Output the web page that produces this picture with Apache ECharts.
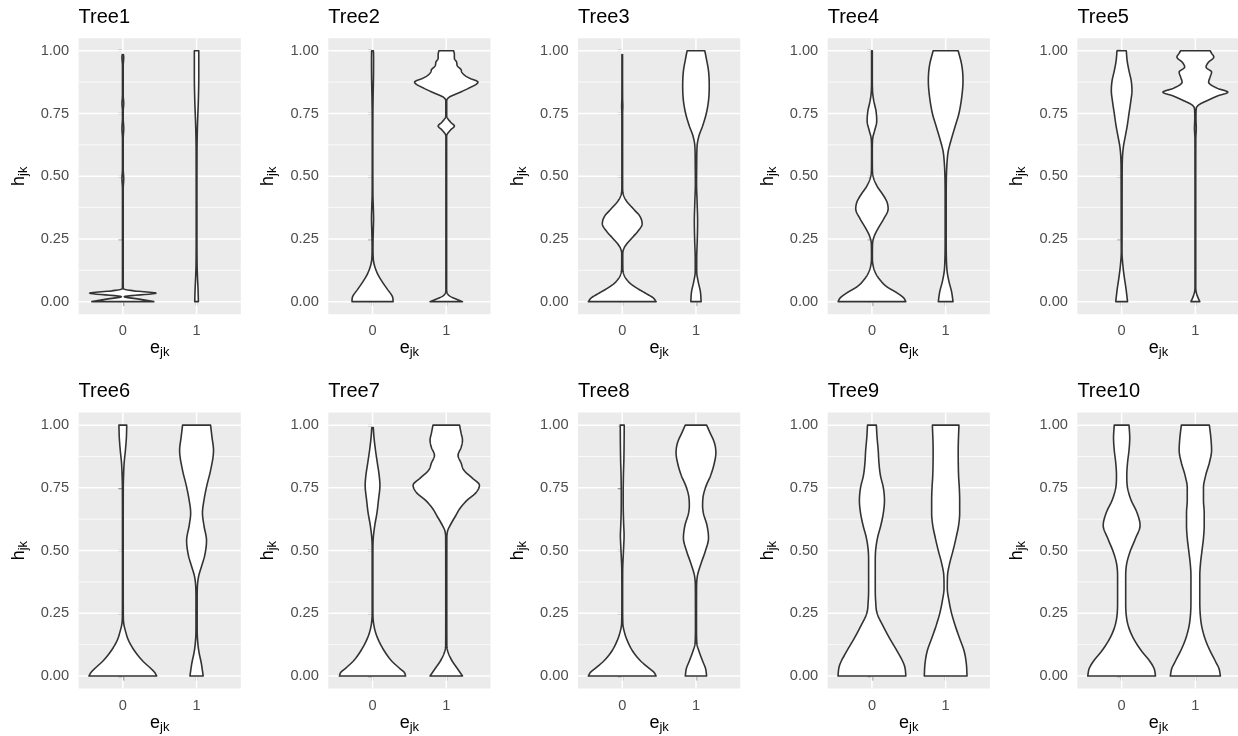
<!DOCTYPE html>
<html>
<head>
<meta charset="utf-8">
<script src="https://cdn.jsdelivr.net/npm/echarts@6/dist/echarts.min.js"></script>
<style>
  html, body { margin: 0; padding: 0; background: #fff; }
  #main { width: 1238px; height: 736px; }
</style>
</head>
<body>
<div id="main"></div>
<script>
// facet names, categories and tick labels
var treeNames = ['Tree1', 'Tree2', 'Tree3', 'Tree4', 'Tree5', 'Tree6', 'Tree7', 'Tree8', 'Tree9', 'Tree10'];
var categories = [0, 1];
var yTicks = [0, 0.25, 0.5, 0.75, 1];
var yMinor = [0.125, 0.375, 0.625, 0.875];

// violin outlines: [h_jk, half width in x units]
var tree1_e0 = [[0, 0.42], [0.01, 0.22], [0.02, 0.02], [0.034, 0.45], [0.043, 0.15], [0.052, 0.006], [0.1, 0.005], [0.45, 0.005], [0.49, 0.012], [0.53, 0.005], [0.65, 0.005], [0.69, 0.012], [0.73, 0.005], [0.76, 0.005], [0.79, 0.012], [0.82, 0.005], [0.94, 0.005], [0.975, 0.012], [0.985, 0.008]];
var tree1_e1 = [[0, 0.025], [0.05, 0.02], [0.1, 0.012], [0.15, 0.007], [0.3, 0.005], [0.6, 0.006], [0.7, 0.012], [0.8, 0.024], [0.9, 0.03], [1, 0.03]];
var tree2_e0 = [[0, 0.28], [0.02, 0.27], [0.05, 0.2], [0.08, 0.13], [0.11, 0.07], [0.14, 0.03], [0.17, 0.01], [0.22, 0.006], [0.28, 0.01], [0.33, 0.014], [0.38, 0.01], [0.43, 0.005], [0.6, 0.004], [0.75, 0.005], [0.82, 0.008], [0.9, 0.013], [0.97, 0.014], [1, 0.012]];
var tree2_e1 = [[0, 0.22], [0.01, 0.14], [0.02, 0.06], [0.03, 0.02], [0.045, 0.005], [0.3, 0.005], [0.66, 0.005], [0.685, 0.06], [0.7, 0.11], [0.715, 0.06], [0.74, 0.006], [0.8, 0.006], [0.815, 0.04], [0.83, 0.15], [0.85, 0.3], [0.875, 0.43], [0.89, 0.32], [0.9, 0.26], [0.915, 0.21], [0.925, 0.2], [0.94, 0.15], [0.955, 0.14], [0.97, 0.11], [0.985, 0.11], [1, 0.1]];
var tree3_e0 = [[0, 0.46], [0.015, 0.42], [0.033, 0.32], [0.05, 0.22], [0.07, 0.12], [0.09, 0.055], [0.11, 0.02], [0.13, 0.008], [0.19, 0.007], [0.21, 0.02], [0.23, 0.06], [0.25, 0.12], [0.28, 0.21], [0.31, 0.27], [0.34, 0.24], [0.37, 0.15], [0.4, 0.06], [0.43, 0.012], [0.46, 0.005], [0.75, 0.005], [0.78, 0.008], [0.81, 0.005], [0.985, 0.004]];
var tree3_e1 = [[0, 0.07], [0.04, 0.06], [0.08, 0.03], [0.12, 0.01], [0.17, 0.01], [0.25, 0.018], [0.32, 0.022], [0.4, 0.015], [0.47, 0.008], [0.55, 0.01], [0.62, 0.015], [0.66, 0.04], [0.7, 0.09], [0.75, 0.14], [0.8, 0.17], [0.86, 0.18], [0.92, 0.17], [0.97, 0.14], [1, 0.12]];
var tree4_e0 = [[0, 0.46], [0.015, 0.43], [0.035, 0.34], [0.06, 0.2], [0.09, 0.1], [0.12, 0.04], [0.15, 0.012], [0.18, 0.006], [0.23, 0.008], [0.26, 0.03], [0.29, 0.08], [0.33, 0.16], [0.37, 0.22], [0.4, 0.2], [0.43, 0.14], [0.46, 0.07], [0.49, 0.025], [0.52, 0.007], [0.6, 0.005], [0.65, 0.01], [0.68, 0.035], [0.72, 0.065], [0.76, 0.055], [0.8, 0.025], [0.84, 0.008], [0.9, 0.005], [1, 0.005]];
var tree4_e1 = [[0, 0.1], [0.04, 0.08], [0.08, 0.045], [0.12, 0.02], [0.17, 0.01], [0.25, 0.007], [0.4, 0.007], [0.5, 0.01], [0.56, 0.02], [0.6, 0.035], [0.64, 0.07], [0.7, 0.13], [0.75, 0.18], [0.82, 0.22], [0.88, 0.235], [0.94, 0.22], [1, 0.17]];
var tree5_e0 = [[0, 0.08], [0.05, 0.06], [0.1, 0.035], [0.15, 0.015], [0.2, 0.005], [0.3, 0.006], [0.5, 0.007], [0.58, 0.012], [0.62, 0.025], [0.66, 0.05], [0.7, 0.075], [0.75, 0.1], [0.8, 0.125], [0.84, 0.14], [0.88, 0.13], [0.92, 0.1], [0.96, 0.075], [1, 0.063]];
var tree5_e1 = [[0, 0.06], [0.02, 0.03], [0.04, 0.01], [0.06, 0.005], [0.4, 0.005], [0.65, 0.006], [0.69, 0.012], [0.73, 0.008], [0.77, 0.012], [0.785, 0.05], [0.8, 0.15], [0.82, 0.3], [0.835, 0.44], [0.85, 0.3], [0.875, 0.18], [0.895, 0.2], [0.915, 0.22], [0.935, 0.145], [0.955, 0.18], [0.975, 0.25], [0.99, 0.22], [1, 0.2]];
var tree6_e0 = [[0, 0.46], [0.015, 0.43], [0.03, 0.38], [0.06, 0.27], [0.1, 0.16], [0.14, 0.08], [0.18, 0.035], [0.21, 0.012], [0.25, 0.006], [0.5, 0.005], [0.75, 0.006], [0.8, 0.01], [0.85, 0.018], [0.9, 0.035], [0.95, 0.048], [1, 0.053]];
var tree6_e1 = [[0, 0.09], [0.05, 0.065], [0.1, 0.03], [0.15, 0.012], [0.2, 0.008], [0.3, 0.008], [0.36, 0.012], [0.4, 0.03], [0.44, 0.07], [0.48, 0.11], [0.54, 0.135], [0.6, 0.1], [0.65, 0.08], [0.7, 0.1], [0.76, 0.14], [0.82, 0.19], [0.9, 0.23], [0.95, 0.21], [1, 0.19]];
var tree7_e0 = [[0, 0.45], [0.015, 0.43], [0.03, 0.37], [0.06, 0.26], [0.1, 0.16], [0.14, 0.085], [0.18, 0.035], [0.22, 0.01], [0.26, 0.005], [0.5, 0.005], [0.55, 0.01], [0.6, 0.03], [0.65, 0.06], [0.7, 0.08], [0.76, 0.1], [0.8, 0.09], [0.85, 0.065], [0.9, 0.04], [0.95, 0.02], [0.99, 0.01]];
var tree7_e1 = [[0, 0.22], [0.03, 0.15], [0.06, 0.08], [0.09, 0.03], [0.12, 0.008], [0.3, 0.007], [0.55, 0.008], [0.58, 0.02], [0.61, 0.07], [0.64, 0.13], [0.67, 0.19], [0.7, 0.28], [0.73, 0.4], [0.76, 0.45], [0.79, 0.35], [0.82, 0.24], [0.85, 0.2], [0.88, 0.16], [0.91, 0.2], [0.94, 0.22], [0.97, 0.2], [1, 0.18]];
var tree8_e0 = [[0, 0.46], [0.015, 0.43], [0.03, 0.37], [0.06, 0.25], [0.1, 0.14], [0.14, 0.07], [0.18, 0.025], [0.21, 0.008], [0.3, 0.005], [0.42, 0.006], [0.47, 0.012], [0.52, 0.02], [0.56, 0.025], [0.6, 0.02], [0.66, 0.014], [0.72, 0.013], [0.8, 0.016], [0.86, 0.022], [0.92, 0.025], [1, 0.027]];
var tree8_e1 = [[0, 0.145], [0.03, 0.13], [0.06, 0.09], [0.1, 0.04], [0.13, 0.012], [0.2, 0.007], [0.35, 0.008], [0.4, 0.02], [0.45, 0.07], [0.5, 0.13], [0.55, 0.17], [0.6, 0.15], [0.65, 0.1], [0.68, 0.09], [0.72, 0.1], [0.76, 0.14], [0.8, 0.2], [0.85, 0.25], [0.89, 0.27], [0.93, 0.25], [0.97, 0.19], [1, 0.145]];
var tree9_e0 = [[0, 0.46], [0.03, 0.45], [0.05, 0.43], [0.1, 0.34], [0.15, 0.24], [0.2, 0.15], [0.25, 0.07], [0.3, 0.05], [0.35, 0.045], [0.45, 0.045], [0.5, 0.05], [0.55, 0.075], [0.6, 0.12], [0.65, 0.155], [0.7, 0.17], [0.75, 0.155], [0.8, 0.115], [0.85, 0.095], [0.9, 0.085], [0.95, 0.07], [1, 0.06]];
var tree9_e1 = [[0, 0.29], [0.05, 0.28], [0.1, 0.25], [0.15, 0.19], [0.2, 0.13], [0.25, 0.08], [0.3, 0.045], [0.35, 0.022], [0.4, 0.025], [0.45, 0.055], [0.5, 0.1], [0.55, 0.14], [0.6, 0.175], [0.65, 0.19], [0.7, 0.19], [0.75, 0.185], [0.8, 0.175], [0.9, 0.17], [1, 0.18]];
var tree10_e0 = [[0, 0.46], [0.03, 0.44], [0.06, 0.38], [0.1, 0.27], [0.15, 0.16], [0.2, 0.09], [0.25, 0.06], [0.3, 0.055], [0.4, 0.055], [0.45, 0.07], [0.5, 0.12], [0.55, 0.19], [0.6, 0.25], [0.65, 0.21], [0.7, 0.13], [0.75, 0.08], [0.8, 0.07], [0.85, 0.08], [0.9, 0.1], [0.95, 0.11], [1, 0.1]];
var tree10_e1 = [[0, 0.34], [0.03, 0.32], [0.06, 0.27], [0.1, 0.2], [0.15, 0.13], [0.2, 0.085], [0.25, 0.065], [0.3, 0.06], [0.4, 0.06], [0.45, 0.07], [0.5, 0.09], [0.55, 0.11], [0.6, 0.12], [0.65, 0.12], [0.7, 0.11], [0.75, 0.11], [0.8, 0.14], [0.85, 0.19], [0.9, 0.22], [0.95, 0.21], [1, 0.19]];

var violins = [
  [tree1_e0, tree1_e1], [tree2_e0, tree2_e1], [tree3_e0, tree3_e1], [tree4_e0, tree4_e1], [tree5_e0, tree5_e1],
  [tree6_e0, tree6_e1], [tree7_e0, tree7_e1], [tree8_e0, tree8_e1], [tree9_e0, tree9_e1], [tree10_e0, tree10_e1]
];

var FONT = '"Liberation Sans", Arial, sans-serif';
var X_MIN = -0.6, X_MAX = 1.6, Y_MIN = -0.05, Y_MAX = 1.05;

// panel layout
function panelLeft(i) { return 78.6 + (i % 5) * 249.7; }
function panelTop(i) { return 38.2 + Math.floor(i / 5) * 374.4; }

// monotone cubic smoothing of a profile (drawing only)
function smoothProfile(pts) {
  var n = pts.length, out = [], d = [], m = [], i;
  for (i = 0; i < n - 1; i++) d.push((pts[i + 1][1] - pts[i][1]) / (pts[i + 1][0] - pts[i][0]));
  m[0] = d[0]; m[n - 1] = d[n - 2];
  for (i = 1; i < n - 1; i++) m[i] = d[i - 1] * d[i] <= 0 ? 0 : (d[i - 1] + d[i]) / 2;
  for (i = 0; i < n - 1; i++) {
    if (d[i] === 0) { m[i] = 0; m[i + 1] = 0; continue; }
    var a = m[i] / d[i], b = m[i + 1] / d[i], s = a * a + b * b;
    if (s > 9) { var tt = 3 / Math.sqrt(s); m[i] = tt * a * d[i]; m[i + 1] = tt * b * d[i]; }
  }
  for (i = 0; i < n - 1; i++) {
    var y0 = pts[i][0], h = pts[i + 1][0] - y0;
    for (var k = 0; k < 10; k++) {
      var t = k / 10, t2 = t * t, t3 = t2 * t;
      var w = (2 * t3 - 3 * t2 + 1) * pts[i][1] + (t3 - 2 * t2 + t) * h * m[i] +
              (-2 * t3 + 3 * t2) * pts[i + 1][1] + (t3 - t2) * h * m[i + 1];
      out.push([y0 + t * h, Math.max(w, 0)]);
    }
  }
  out.push(pts[n - 1]);
  return out;
}

var grids = [], xAxes = [], yAxes = [], titles = [], series = [];
var axisNameRich = {
  m: { fontSize: 18, color: '#000', fontFamily: FONT },
  s: { fontSize: 13, color: '#000', fontFamily: FONT, padding: [9, 0, 0, 0] }
};

treeNames.forEach(function (name, i) {
  grids.push({
    left: panelLeft(i), top: panelTop(i), width: 162.2, height: 276,
    show: true, backgroundColor: '#EBEBEB', borderWidth: 0,
    containLabel: false, outerBoundsMode: 'none'
  });
  titles.push({
    text: name, left: panelLeft(i), top: panelTop(i) - 31, padding: 0,
    textStyle: { fontSize: 20, fontWeight: 'normal', color: '#000', fontFamily: FONT }
  });
  xAxes.push({
    gridIndex: i, type: 'value', min: X_MIN, max: X_MAX,
    name: '{m|e}{s|jk}', nameLocation: 'middle', nameGap: 23, nameMoveOverlap: false,
    nameTextStyle: { rich: axisNameRich },
    axisLine: { show: false },
    axisTick: { show: true, length: 4.5, customValues: categories, lineStyle: { color: '#333', width: 1.3 } },
    axisLabel: { customValues: categories, margin: 9.5, color: '#4D4D4D', fontSize: 14.6, fontFamily: FONT,
      formatter: function (v) { return String(v); } },
    splitLine: { show: false }
  });
  yAxes.push({
    gridIndex: i, type: 'value', min: Y_MIN, max: Y_MAX,
    name: '{m|h}{s|jk}', nameLocation: 'middle', nameGap: 49, nameMoveOverlap: false,
    nameTextStyle: { rich: axisNameRich },
    axisLine: { show: false },
    axisTick: { show: true, length: 4.5, customValues: yTicks, lineStyle: { color: '#333', width: 1.3 } },
    axisLabel: { customValues: yTicks, margin: 9.5, color: '#4D4D4D', fontSize: 14.6, fontFamily: FONT,
      formatter: function (v) { return v.toFixed(2); } },
    splitLine: { show: false }
  });

  // panel grid lines: [x, y, kind] kind 0 minor, 1 major horizontal, 2 vertical
  var lines = [];
  yMinor.forEach(function (v) { lines.push([0, v, 0]); });
  yTicks.forEach(function (v) { lines.push([0, v, 1]); });
  categories.forEach(function (c) { lines.push([c, 0, 2]); });
  series.push({
    type: 'custom', xAxisIndex: i, yAxisIndex: i, z: 1, silent: true,
    dimensions: ['x', 'y', 'kind'], encode: { x: 0, y: 1 },
    data: lines,
    renderItem: function (params, api) {
      var kind = api.value(2), p1, p2;
      if (kind === 2) {
        p1 = api.coord([api.value(0), Y_MIN]); p2 = api.coord([api.value(0), Y_MAX]);
      } else {
        p1 = api.coord([X_MIN, api.value(1)]); p2 = api.coord([X_MAX, api.value(1)]);
      }
      return {
        type: 'line', shape: { x1: p1[0], y1: p1[1], x2: p2[0], y2: p2[1] },
        style: { stroke: '#fff', lineWidth: kind === 0 ? 0.75 : 1.5 }
      };
    }
  });

  var profiles = violins[i];
  series.push({
    type: 'custom', xAxisIndex: i, yAxisIndex: i, z: 3, silent: true,
    dimensions: ['x', 'y'], encode: { x: 0, y: 1 },
    data: categories.map(function (c) { return [c, 0]; }),
    renderItem: function (params, api) {
      var cat = api.value(0);
      var prof = smoothProfile(profiles[params.dataIndex]);
      var right = [], left = [];
      prof.forEach(function (p) {
        right.push(api.coord([cat + p[1], p[0]]));
        left.unshift(api.coord([cat - p[1], p[0]]));
      });
      return {
        type: 'polygon', shape: { points: right.concat(left) },
        style: { fill: '#fff', stroke: '#333', lineWidth: 1.6, lineJoin: 'round' }
      };
    }
  });
});

var chart = echarts.init(document.getElementById('main'));
chart.setOption({
  animation: false,
  backgroundColor: '#fff',
  title: titles,
  grid: grids,
  xAxis: xAxes,
  yAxis: yAxes,
  series: series
});
</script>
</body>
</html>
